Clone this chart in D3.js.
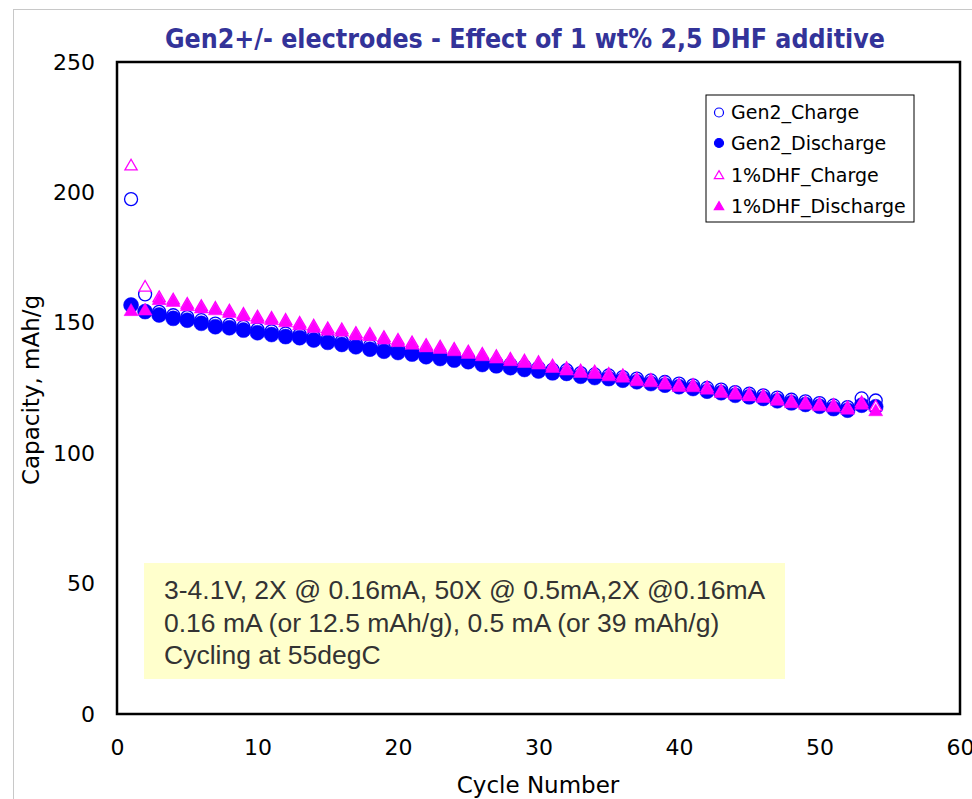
<!DOCTYPE html>
<html>
<head>
<meta charset="utf-8">
<script src="https://cdn.jsdelivr.net/npm/d3@7"></script>
<style>
  html, body { margin: 0; padding: 0; background: #fff; }
  svg { display: block; }
</style>
</head>
<body>
<svg id="chart" width="972" height="799"></svg>
<script>
// ---- data ----
const cycles = d3.range(1, 55);
const gen2Discharge = [156.8,154.3,153.0,151.7,151.0,149.8,148.5,148.1,147.2,146.2,
  145.5,144.7,144.3,143.4,142.5,141.7,140.8,139.9,139.1,138.6,
  138.0,137.0,136.3,135.7,135.1,134.0,133.5,132.8,132.1,131.5,
  130.8,130.6,129.5,129.0,128.6,128.0,127.4,126.7,126.1,125.5,
  124.8,123.8,123.2,122.2,121.6,121.0,120.1,119.3,118.7,118.0,
  117.1,116.5,118.4,117.8];
const gen2Charge = [197.4,160.9,154.2,152.9,152.2,151.0,149.7,149.3,148.4,147.4,
  146.7,145.9,145.5,144.6,143.7,142.9,142.0,141.1,140.3,139.8,
  139.2,138.2,137.5,136.9,136.3,135.2,134.7,134.0,133.3,132.7,
  132.0,131.8,130.7,130.2,129.8,129.2,128.6,127.9,127.3,126.7,
  126.0,125.0,124.4,123.4,122.8,122.2,121.3,120.5,119.9,119.2,
  118.3,117.7,121.0,120.2];
const dhfDischarge = [154.3,154.5,158.5,157.8,156.2,155.3,154.6,153.6,152.3,151.3,
  150.8,150.0,148.9,147.8,146.8,146.4,145.0,144.7,143.4,142.4,
  141.4,140.4,139.8,138.9,137.9,137.0,136.1,135.1,134.4,133.8,
  132.5,131.5,130.6,130.2,129.3,128.8,127.4,127.0,126.1,125.2,
  125.1,124.2,122.9,122.2,121.6,121.0,119.9,119.0,118.4,117.8,
  117.4,116.5,118.4,115.9];
const dhfCharge = [210.0,163.5,159.5,158.6,157.0,156.1,155.4,154.4,153.1,152.1,
  151.6,150.8,149.7,148.6,147.6,147.2,145.8,145.5,144.2,143.2,
  142.2,141.2,140.6,139.7,138.7,137.8,136.9,135.9,135.2,134.6,
  133.3,132.3,131.4,131.0,130.1,129.6,128.2,127.8,126.9,126.0,
  125.9,125.0,123.7,123.0,122.4,121.8,120.7,119.8,119.2,118.6,
  118.2,117.3,119.2,117.7];
const xTicks = [0, 10, 20, 30, 40, 50, 60];
const yTicks = [0, 50, 100, 150, 200, 250];
const seriesNames = ["Gen2_Charge", "Gen2_Discharge", "1%DHF_Charge", "1%DHF_Discharge"];
const titleText = "Gen2+/- electrodes - Effect of 1 wt% 2,5 DHF additive";
const noteLines = ["3-4.1V, 2X @ 0.16mA, 50X @ 0.5mA,2X @0.16mA",
  "0.16 mA (or 12.5 mAh/g), 0.5 mA (or 39 mAh/g)",
  "Cycling at 55degC"];

// ---- layout ----
const svg = d3.select("#chart");
const plot = {left: 117, top: 62, right: 960, bottom: 714};
const x = d3.scaleLinear().domain([0, 60]).range([plot.left, plot.right]);
const y = d3.scaleLinear().domain([0, 250]).range([plot.bottom, plot.top]);

const BLUE = "#0000ff", MAG = "#ff00ff";

// outer frame (light grey)
svg.append("rect").attr("x", 13.5).attr("y", 9.5).attr("width", 980).attr("height", 820)
  .attr("fill", "none").attr("stroke", "#c8c8c8").attr("stroke-width", 1);

// title
svg.append("text").attr("x", 525).attr("y", 48).attr("text-anchor", "middle")
  .attr("font-family", "DejaVu Sans Condensed, DejaVu Sans").attr("font-weight", "bold")
  .attr("font-stretch", "condensed")
  .attr("font-size", 26).attr("fill", "#333399")
  .attr("textLength", 720).attr("lengthAdjust", "spacingAndGlyphs")
  .text(titleText);

// axes
const xAxis = d3.axisBottom(x).tickValues(xTicks).tickSize(0).tickPadding(22).tickFormat(d3.format("d"));
const yAxis = d3.axisLeft(y).tickValues(yTicks).tickSize(0).tickPadding(22).tickFormat(d3.format("d"));
const gx = svg.append("g").attr("transform", `translate(0,${plot.bottom})`).call(xAxis);
const gy = svg.append("g").attr("transform", `translate(${plot.left},0)`).call(yAxis);
[gx, gy].forEach(g => {
  g.select(".domain").remove();
  g.selectAll("text").attr("font-family", "DejaVu Sans").attr("font-size", 22).attr("fill", "#000");
});
gx.selectAll("text").attr("dy", "0.85em");

// axis titles
svg.append("text").attr("x", 538).attr("y", 793).attr("text-anchor", "middle")
  .attr("font-family", "DejaVu Sans").attr("font-size", 23).text("Cycle Number");
svg.append("text").attr("transform", "translate(39,390) rotate(-90)").attr("text-anchor", "middle")
  .attr("font-family", "DejaVu Sans").attr("font-size", 23).text("Capacity, mAh/g");

// annotation box
svg.append("rect").attr("x", 144).attr("y", 563).attr("width", 641).attr("height", 116)
  .attr("fill", "#ffffcc");
noteLines.forEach((t, i) => {
  svg.append("text").attr("x", 164).attr("y", 599 + i * 32.5)
    .attr("font-family", "Liberation Sans, Arial").attr("font-size", 26.5).attr("fill", "#333")
    .text(t);
});

// series
const symTri = d3.symbol().type(d3.symbolTriangle);
function drawCircles(vals, filled, r) {
  svg.append("g").selectAll("circle").data(vals).join("circle")
    .attr("cx", (d, i) => x(cycles[i])).attr("cy", d => y(d)).attr("r", r)
    .attr("fill", filled ? BLUE : "#fff").attr("stroke", BLUE).attr("stroke-width", filled ? 0.5 : 1.3);
}
function drawTris(vals, filled, size) {
  svg.append("g").selectAll("path").data(vals).join("path")
    .attr("transform", (d, i) => `translate(${x(cycles[i])},${y(d)})`)
    .attr("d", symTri.size(size)())
    .attr("fill", filled ? MAG : "#fff").attr("stroke", MAG).attr("stroke-width", filled ? 0.5 : 1.3);
}
drawCircles(gen2Charge, false, 6.5);
drawCircles(gen2Discharge, true, 7.5);
drawTris(dhfCharge, false, 65);
drawTris(dhfDischarge, true, 85);

// plot frame
svg.append("rect").attr("x", plot.left).attr("y", plot.top)
  .attr("width", plot.right - plot.left).attr("height", plot.bottom - plot.top)
  .attr("fill", "none").attr("stroke", "#000").attr("stroke-width", 2.5);

// legend
const lg = svg.append("g");
lg.append("rect").attr("x", 706).attr("y", 95).attr("width", 208).attr("height", 127)
  .attr("fill", "#fff").attr("stroke", "#000").attr("stroke-width", 1);
const ly = [112.5, 143, 175, 206];
seriesNames.forEach((n, i) => {
  const cx = 719, cy = ly[i];
  if (i < 2) {
    lg.append("circle").attr("cx", cx).attr("cy", cy).attr("r", 4.5)
      .attr("fill", i === 1 ? BLUE : "#fff").attr("stroke", BLUE).attr("stroke-width", 1.2);
  } else {
    lg.append("path").attr("transform", `translate(${cx},${cy + 1})`)
      .attr("d", symTri.size(38)())
      .attr("fill", i === 3 ? MAG : "#fff").attr("stroke", MAG).attr("stroke-width", 1.2);
  }
  lg.append("text").attr("x", 731).attr("y", cy + 6.5)
    .attr("font-family", "DejaVu Sans").attr("font-size", 19).attr("fill", "#000").text(n);
});
</script>
</body>
</html>
